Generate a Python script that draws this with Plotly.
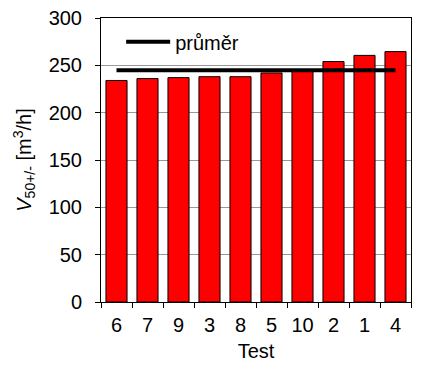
import plotly.graph_objects as go

tests = ["6", "7", "9", "3", "8", "5", "10", "2", "1", "4"]
values = [234, 236, 237, 238, 238, 242, 244, 254, 260.5, 264.5]
mean_value = sum(values) / len(values)
mean_label = "průměr"

fig = go.Figure()
fig.add_trace(go.Bar(
    x=tests, y=values, marker=dict(color="#FF0000", line=dict(color="black", width=1)),
    showlegend=False,
))
fig.add_trace(go.Scatter(
    x=[tests[0], tests[-1]], y=[mean_value, mean_value], mode="lines",
    line=dict(color="black", width=4), name=mean_label,
))

fig.update_layout(
    width=424, height=369,
    margin=dict(l=101, r=13, t=18, b=67, autoexpand=False),
    paper_bgcolor="white", plot_bgcolor="white",
    font=dict(family="Arial, Liberation Sans, sans-serif", size=18, color="black"),
    bargap=0.32,
    legend=dict(x=0.065, y=0.985, xanchor="left", yanchor="top", bgcolor="rgba(0,0,0,0)",
                itemwidth=44, font=dict(size=20)),
)
fig.update_xaxes(
    type="category", showline=True, linecolor="black", linewidth=1, mirror=True,
    ticks="outside", tickson="boundaries", ticklen=5, tickcolor="black",
    title=dict(text="Test", standoff=8, font=dict(size=20)), showgrid=False,
    automargin=False, tickfont=dict(size=20), ticklabelstandoff=5, tickangle=0,
)
fig.update_yaxes(
    range=[0, 300], dtick=50, showline=True, linecolor="black", linewidth=1, mirror=True,
    ticks="outside", ticklen=5, tickcolor="black", showgrid=True, gridcolor="#999999",
    gridwidth=1, zeroline=False, automargin=False, tickfont=dict(size=20), ticklabelstandoff=9,
    title=dict(text="<i>V</i><sub>50+/-</sub> [m<sup>3</sup>/h]", standoff=11, font=dict(size=20)),
)
fig.write_html("out.html", post_script="document.body.style.margin='0';",
               config={"displayModeBar": False})
